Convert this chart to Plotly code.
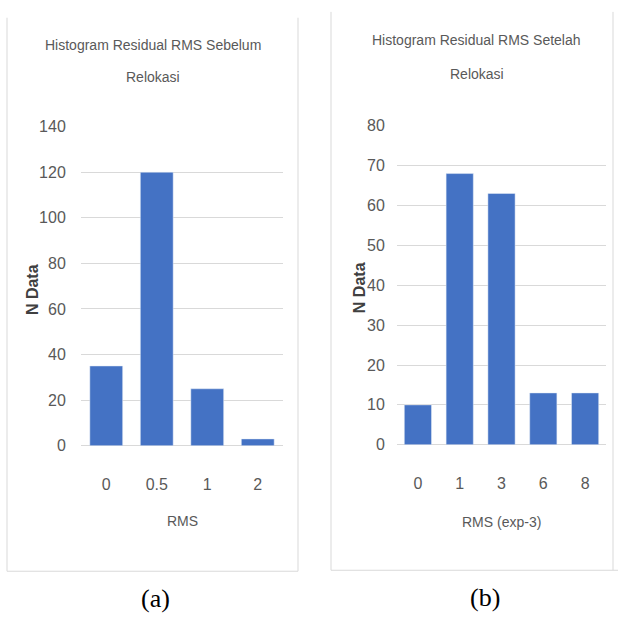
import plotly.graph_objects as go

# Histogram (a): residual RMS before relocation
rms_before = ["0", "0.5", "1", "2"]
count_before = [35, 120, 25, 3]

# Histogram (b): residual RMS after relocation (x 1e-3)
rms_after = ["0", "1", "3", "6", "8"]
count_after = [10, 68, 63, 13, 13]

W, H = 618, 624
BAR = "#4472C4"
GRID = "#d9d9d9"
TXT = "#595959"
SANS = "Liberation Sans, Arial, sans-serif"
SERIF = "Liberation Serif, Times New Roman, serif"


def px(x):
    return x / W


def py(y):
    return 1 - y / H


fig = go.Figure()
fig.add_trace(go.Bar(x=rms_before, y=count_before, marker_color=BAR,
                     xaxis="x", yaxis="y", showlegend=False))
fig.add_trace(go.Bar(x=rms_after, y=count_after, marker_color=BAR,
                     xaxis="x2", yaxis="y2", showlegend=False))

tickfont = dict(family=SANS, size=16, color=TXT)
common_x = dict(type="category", showgrid=False, zeroline=False, showline=False,
                ticks="outside", ticklen=24, tickcolor="rgba(0,0,0,0)",
                tickfont=tickfont, fixedrange=True)
common_y = dict(showgrid=True, gridcolor=GRID, gridwidth=1, zeroline=True,
                zerolinecolor=GRID, zerolinewidth=1, showline=False,
                ticks="outside", tickcolor="rgba(0,0,0,0)",
                tickfont=tickfont, fixedrange=True)

fig.update_layout(
    width=W, height=H,
    margin=dict(l=0, r=0, t=0, b=0),
    paper_bgcolor="white", plot_bgcolor="white",
    bargap=0.35,
    xaxis=dict(domain=[px(81), px(283)], anchor="y", **common_x),
    yaxis=dict(domain=[py(450), py(122)], anchor="x", range=[0, 140], dtick=20,
               ticklen=11, **common_y),
    xaxis2=dict(domain=[px(397), px(606)], anchor="y2", **common_x),
    yaxis2=dict(domain=[py(449), py(121)], anchor="x2", range=[0, 80], dtick=10,
                ticklen=8, **common_y),
)

# chart-area frames
frame = dict(color=GRID, width=1)
for x0, y0, x1, y1 in [
    (7, 10, 7, 579), (298, 10, 298, 579), (7, 579, 298, 579),
    (331, 4, 331, 578), (613, 4, 613, 578), (331, 578, 618, 578),
]:
    fig.add_shape(type="line", xref="paper", yref="paper",
                  x0=px(x0), y0=py(y0), x1=px(x1), y1=py(y1), line=frame)

titlefont = dict(family=SANS, size=14, color=TXT)
ytitlefont = dict(family=SANS, size=16, color="#404040")
capfont = dict(family=SERIF, size=26, color="black")
texts = [
    (153, 38, "Histogram Residual RMS Sebelum", titlefont, 0),
    (153, 71, "Relokasi", titlefont, 0),
    (476, 33, "Histogram Residual RMS Setelah", titlefont, 0),
    (477, 68, "Relokasi", titlefont, 0),
    (182, 527, "RMS", titlefont, 0),
    (501, 528, "RMS (exp-3)", titlefont, 0),
    (32, 290, "<b>N Data</b>", ytitlefont, -90),
    (359, 288, "<b>N Data</b>", ytitlefont, -90),
    (155, 607, "(a)", capfont, 0),
    (485, 606, "(b)", capfont, 0),
]
for x, y, t, f, ang in texts:
    fig.add_annotation(x=px(x), y=py(y), xref="paper", yref="paper", text=t,
                       showarrow=False, font=f, textangle=ang,
                       xanchor="center", yanchor="middle")

fig.write_html("out.html")
